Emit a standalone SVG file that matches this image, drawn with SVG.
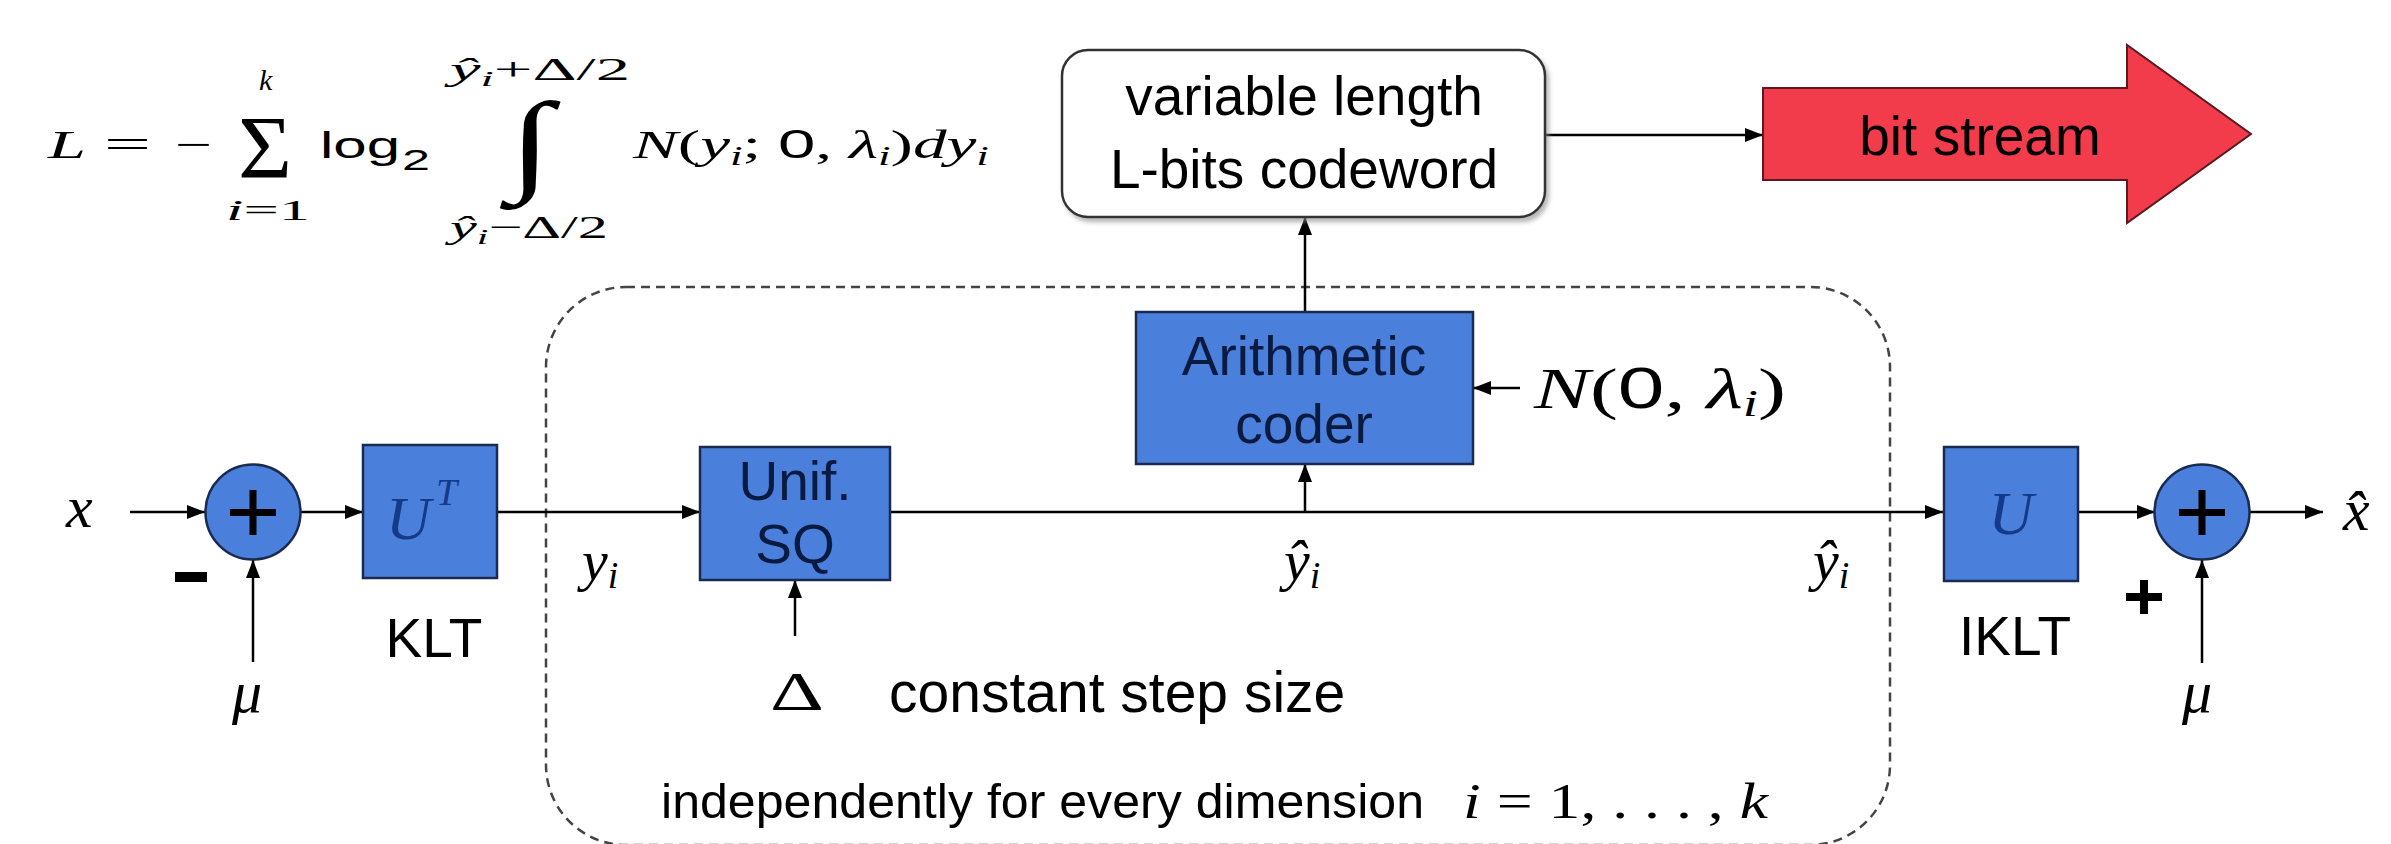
<svg xmlns="http://www.w3.org/2000/svg" width="2391" height="844" viewBox="0 0 2391 844">
<defs>
<marker id="ah" markerUnits="userSpaceOnUse" markerWidth="20" markerHeight="16" refX="18" refY="7" orient="auto">
<path d="M0,0 L18,7 L0,14 z" fill="#000"/>
</marker>
<filter id="sh" x="-5%" y="-5%" width="115%" height="120%">
<feDropShadow dx="3" dy="4" stdDeviation="2" flood-color="#888" flood-opacity="0.6"/>
</filter>
</defs>
<style>
.blk{fill:#4a80dc;stroke:#1a2a50;stroke-width:2.5}
.ln{stroke:#000;stroke-width:2.5;fill:none}
.sans{font-family:"Liberation Sans",Arial,sans-serif}
.lbl{font-family:"Liberation Sans",Arial,sans-serif;font-size:55px;fill:#000}
.inb{font-family:"Liberation Sans",Arial,sans-serif;font-size:55px;fill:#0a1a40}
.m{font-family:"Liberation Serif","Times New Roman",serif;fill:#000}
.mi{font-family:"Liberation Serif","Times New Roman",serif;font-style:italic;fill:#000}
.ub{font-family:"Liberation Serif","Times New Roman",serif;font-style:italic;fill:#153a8a}
.pm{fill:#000}
</style>
<rect width="2391" height="844" fill="#fff"/>

<g id="formula">
<text class="mi" x="48" y="158" font-size="40" textLength="38" lengthAdjust="spacingAndGlyphs">L</text>
<text class="m" x="104" y="158" font-size="40" textLength="47" lengthAdjust="spacingAndGlyphs">=</text>
<text class="m" x="175" y="158" font-size="40" textLength="37" lengthAdjust="spacingAndGlyphs">−</text>
<text class="m" x="238" y="177" font-size="88" textLength="54" lengthAdjust="spacingAndGlyphs">Σ</text>
<text class="mi" x="259" y="90" font-size="30">k</text>
<text class="m" x="226" y="220" font-size="30" textLength="84" lengthAdjust="spacingAndGlyphs"><tspan font-style="italic">i</tspan>=1</text>
<text class="sans" x="320" y="158" font-size="37" textLength="80" lengthAdjust="spacingAndGlyphs">log</text>
<text class="sans" x="402" y="170" font-size="30" textLength="28" lengthAdjust="spacingAndGlyphs">2</text>
<text class="m" x="450" y="80" font-size="32" textLength="180" lengthAdjust="spacingAndGlyphs"><tspan font-style="italic">ŷ</tspan><tspan font-style="italic" font-size="22" dy="6">i</tspan><tspan dy="-6">+Δ/2</tspan></text>
<text class="m" x="508" y="180" font-size="112" textLength="44" lengthAdjust="spacingAndGlyphs">∫</text>
<text class="m" x="450" y="238" font-size="32" textLength="158" lengthAdjust="spacingAndGlyphs"><tspan font-style="italic">ŷ</tspan><tspan font-style="italic" font-size="22" dy="6">i</tspan><tspan dy="-6">−Δ/2</tspan></text>
<text class="m" x="633" y="158" font-size="40" textLength="356" lengthAdjust="spacingAndGlyphs"><tspan font-style="italic">N</tspan>(<tspan font-style="italic">y</tspan><tspan font-style="italic" font-size="27" dy="7">i</tspan><tspan dy="-7">; </tspan><tspan class="sans">0</tspan>, <tspan font-style="italic">λ</tspan><tspan font-style="italic" font-size="27" dy="7">i</tspan><tspan dy="-7">)</tspan><tspan font-style="italic">dy</tspan><tspan font-style="italic" font-size="27" dy="7">i</tspan></text>
</g>

<g id="region">
<rect x="546" y="287" width="1344" height="558" rx="80" ry="80" fill="none" stroke="#444" stroke-width="2.5" stroke-dasharray="9 6"/>
</g>

<g id="connectors">
<line class="ln" x1="130" y1="512" x2="205" y2="512" marker-end="url(#ah)"/>
<line class="ln" x1="253" y1="662" x2="253" y2="560" marker-end="url(#ah)"/>
<line class="ln" x1="300" y1="512" x2="363" y2="512" marker-end="url(#ah)"/>
<line class="ln" x1="497" y1="512" x2="700" y2="512" marker-end="url(#ah)"/>
<line class="ln" x1="795" y1="636" x2="795" y2="580" marker-end="url(#ah)"/>
<line class="ln" x1="890" y1="512" x2="1943" y2="512" marker-end="url(#ah)"/>
<line class="ln" x1="1305" y1="512" x2="1305" y2="464" marker-end="url(#ah)"/>
<line class="ln" x1="1305" y1="312" x2="1305" y2="217" marker-end="url(#ah)"/>
<line class="ln" x1="1520" y1="388" x2="1473" y2="388" marker-end="url(#ah)"/>
<line class="ln" x1="1545" y1="135" x2="1763" y2="135" marker-end="url(#ah)"/>
<line class="ln" x1="2078" y1="512" x2="2155" y2="512" marker-end="url(#ah)"/>
<line class="ln" x1="2250" y1="512" x2="2323" y2="512" marker-end="url(#ah)"/>
<line class="ln" x1="2202" y1="663" x2="2202" y2="560" marker-end="url(#ah)"/>
</g>

<g id="input-x">
<text class="mi" x="66" y="527" font-size="60">x</text>
</g>

<g id="sum1">
<circle class="blk" cx="253" cy="512" r="47.5"/>
<rect class="pm" x="230" y="509" width="46" height="7"/>
<rect class="pm" x="249.5" y="490" width="7" height="45"/>
<rect class="pm" x="175" y="572" width="32" height="10"/>
<text class="mi" x="232" y="712" font-size="60">μ</text>
</g>

<g id="klt">
<rect class="blk" x="363" y="445" width="134" height="133"/>
<text class="ub" x="386" y="539" font-size="62">U</text>
<text class="ub" x="436" y="505" font-size="38">T</text>
<text class="lbl" x="434" y="657" text-anchor="middle">KLT</text>
</g>

<g id="yi-label">
<text class="mi" x="582" y="580" font-size="58">y<tspan font-size="38" dy="8">i</tspan></text>
</g>

<g id="sq">
<rect class="blk" x="700" y="447" width="190" height="133"/>
<text class="inb" x="795" y="500" text-anchor="middle">Unif.</text>
<text class="inb" x="795" y="563" text-anchor="middle">SQ</text>
</g>

<g id="delta">
<text class="m" x="770" y="710" font-size="54" textLength="54" lengthAdjust="spacingAndGlyphs">Δ</text>
<text class="lbl" x="889" y="712" style="font-size:57px">constant step size</text>
</g>

<g id="yhat-mid">
<text class="mi" x="1284" y="580" font-size="58">ŷ<tspan font-size="38" dy="8">i</tspan></text>
</g>

<g id="arith">
<rect class="blk" x="1136" y="312" width="337" height="152"/>
<text class="inb" x="1304" y="375" text-anchor="middle">Arithmetic</text>
<text class="inb" x="1304" y="443" text-anchor="middle">coder</text>
</g>

<g id="normal">
<text class="mi" x="1534" y="408" font-size="58" textLength="252" lengthAdjust="spacingAndGlyphs">N<tspan font-style="normal">(</tspan><tspan class="sans" font-style="normal">0</tspan><tspan font-style="normal">, </tspan>λ<tspan font-size="38" dy="8">i</tspan><tspan font-style="normal" dy="-8">)</tspan></text>
</g>

<g id="codeword">
<rect x="1062" y="50" width="483" height="167" rx="26" ry="26" fill="#fff" stroke="#333" stroke-width="2.5" filter="url(#sh)"/>
<text class="lbl" x="1304" y="115" text-anchor="middle">variable length</text>
<text class="lbl" x="1304" y="188" text-anchor="middle">L-bits codeword</text>
</g>

<g id="bitstream">
<path d="M1763,88 L2127,88 L2127,45 L2251,134 L2127,223 L2127,180 L1763,180 z" fill="#f23b4b" stroke="#5a1a20" stroke-width="2"/>
<text class="lbl" x="1980" y="155" text-anchor="middle">bit stream</text>
</g>

<g id="yhat-right">
<text class="mi" x="1813" y="580" font-size="58">ŷ<tspan font-size="38" dy="8">i</tspan></text>
</g>

<g id="iklt">
<rect class="blk" x="1944" y="447" width="134" height="134"/>
<text class="ub" x="2011" y="534" font-size="62" text-anchor="middle">U</text>
<text class="lbl" x="2015" y="655" text-anchor="middle">IKLT</text>
</g>

<g id="sum2">
<circle class="blk" cx="2202" cy="512" r="47.5"/>
<rect class="pm" x="2179" y="509" width="46" height="7"/>
<rect class="pm" x="2198.5" y="490" width="7" height="45"/>
<rect class="pm" x="2126" y="593" width="36" height="8"/>
<rect class="pm" x="2140" y="580" width="8" height="34"/>
<text class="mi" x="2182" y="712" font-size="60">μ</text>
</g>

<g id="output-xhat">
<text class="mi" x="2343" y="530" font-size="60">x̂</text>
</g>

<g id="footer">
<text class="lbl" x="661" y="818" style="font-size:49px" textLength="763" lengthAdjust="spacingAndGlyphs">independently for every dimension</text>
<text class="m" x="1463" y="818" font-size="50" textLength="305" lengthAdjust="spacingAndGlyphs"><tspan font-style="italic">i</tspan> = 1, . . . , <tspan font-style="italic">k</tspan></text>
</g>
</svg>
